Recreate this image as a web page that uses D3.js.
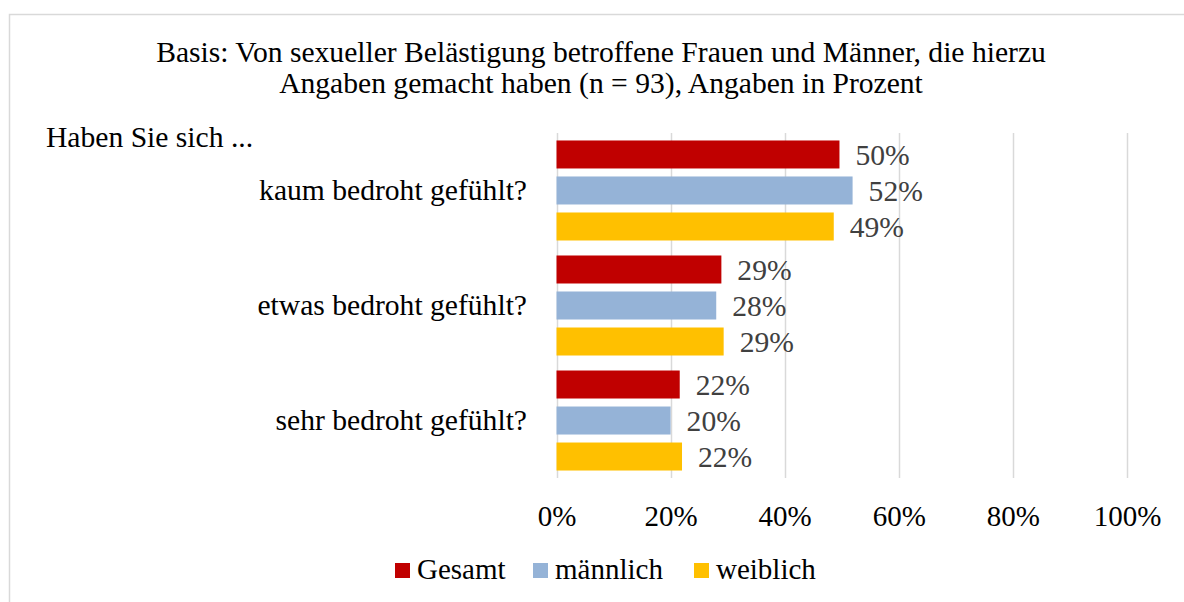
<!DOCTYPE html>
<html>
<head>
<meta charset="utf-8">
<script src="https://cdn.jsdelivr.net/npm/d3@7"></script>
<style>
  body { margin: 0; background: #fff; }
  text { font-family: "Liberation Serif", serif; }
</style>
</head>
<body>
<div id="chart"></div>
<script>
// chart values
var categories = ["kaum bedroht gefühlt?", "etwas bedroht gefühlt?", "sehr bedroht gefühlt?"];
var seriesNames = ["Gesamt", "männlich", "weiblich"];
var gesamt = [49.6, 28.9, 21.6];
var maennlich = [51.9, 28.0, 20.0];
var weiblich = [48.6, 29.3, 22.0];
var ticks = [0, 20, 40, 60, 80, 100];
var titleLines = ["Basis: Von sexueller Belästigung betroffene Frauen und Männer, die hierzu",
                  "Angaben gemacht haben (n = 93), Angaben in Prozent"];
var axisTitle = "Haben Sie sich ...";

var colors = ["#C00000", "#95B3D7", "#FFC000"];
var seriesValues = [gesamt, maennlich, weiblich];

var width = 1184, height = 602;
var fontSize = 29;
var bigFont = 29.6;

var svg = d3.select("#chart")
  .append("svg")
    .attr("width", width)
    .attr("height", height);

// outer frame
svg.append("rect")
  .attr("x", 9.5).attr("y", 14.5)
  .attr("width", 1200).attr("height", 620)
  .attr("fill", "#fff")
  .attr("stroke", "#d9d9d9")
  .attr("stroke-width", 1.5);

// title
svg.append("g").selectAll("text")
  .data(titleLines)
  .enter().append("text")
    .attr("x", 601)
    .attr("y", function(d, i) { return 62 + i * 31; })
    .attr("text-anchor", "middle")
    .style("font-size", bigFont + "px")
    .attr("fill", "#000")
    .text(function(d) { return d; });

svg.append("text")
  .attr("x", 46).attr("y", 147)
  .style("font-size", bigFont + "px")
  .attr("fill", "#000")
  .text(axisTitle);

// scales
var x = d3.scaleLinear().domain([0, 100]).range([556.5, 1127]);
var y0 = d3.scaleBand()
  .domain(categories)
  .range([133, 478])
  .paddingInner(15 / 115)
  .paddingOuter(0.065);
var y1 = d3.scaleBand()
  .domain(seriesNames)
  .range([0, y0.bandwidth()])
  .paddingInner(8 / 36);

// gridlines
svg.append("g").selectAll("line")
  .data(ticks)
  .enter().append("line")
    .attr("x1", function(d) { return Math.round(x(d)) + 0.5; })
    .attr("x2", function(d) { return Math.round(x(d)) + 0.5; })
    .attr("y1", 133).attr("y2", 478)
    .attr("stroke", "#d9d9d9")
    .attr("stroke-width", 1.5);

// x axis labels
var xAxis = d3.axisBottom(x)
  .tickValues(ticks)
  .tickFormat(function(d) { return d + "%"; })
  .tickSize(0)
  .tickPadding(0);

var gx = svg.append("g")
  .attr("transform", "translate(0,526)")
  .call(xAxis);
gx.select(".domain").remove();
gx.selectAll("text")
  .attr("dy", 0)
  .attr("y", 0)
  .style("font-size", fontSize + "px")
  .style("font-family", "'Liberation Serif', serif")
  .attr("fill", "#000");

// category labels
var yAxis = d3.axisLeft(y0).tickSize(0).tickPadding(0);
var gy = svg.append("g")
  .attr("transform", "translate(527,0)")
  .call(yAxis);
gy.select(".domain").remove();
gy.selectAll("text")
  .attr("dy", "0.32em")
  .style("font-size", bigFont + "px")
  .style("font-family", "'Liberation Serif', serif")
  .attr("fill", "#000");

// bars
var rows = categories.map(function(c, i) {
  return seriesNames.map(function(s, j) {
    return { cat: c, series: s, value: seriesValues[j][i], color: colors[j] };
  });
});

var groups = svg.append("g").selectAll("g")
  .data(rows)
  .enter().append("g")
    .attr("transform", function(d) { return "translate(0," + y0(d[0].cat) + ")"; });

groups.selectAll("rect")
  .data(function(d) { return d; })
  .enter().append("rect")
    .attr("x", x(0))
    .attr("y", function(d) { return y1(d.series); })
    .attr("width", function(d) { return x(d.value) - x(0); })
    .attr("height", y1.bandwidth())
    .attr("fill", function(d) { return d.color; });

groups.selectAll("text")
  .data(function(d) { return d; })
  .enter().append("text")
    .attr("x", function(d) { return x(d.value) + 16; })
    .attr("y", function(d) { return y1(d.series) + y1.bandwidth() / 2; })
    .attr("dy", "0.35em")
    .style("font-size", bigFont + "px")
    .attr("fill", "#404040")
    .text(function(d) { return Math.round(d.value) + "%"; });

// legend
var legendX = [395, 533, 694];
var legend = svg.append("g").selectAll("g")
  .data(seriesNames)
  .enter().append("g")
    .attr("transform", function(d, i) { return "translate(" + legendX[i] + ",563)"; });

legend.append("rect")
  .attr("width", 15).attr("height", 15)
  .attr("fill", function(d, i) { return colors[i]; });

legend.append("text")
  .attr("x", 22).attr("y", 16)
  .style("font-size", fontSize + "px")
  .attr("fill", "#000")
  .text(function(d) { return d; });
</script>
</body>
</html>
